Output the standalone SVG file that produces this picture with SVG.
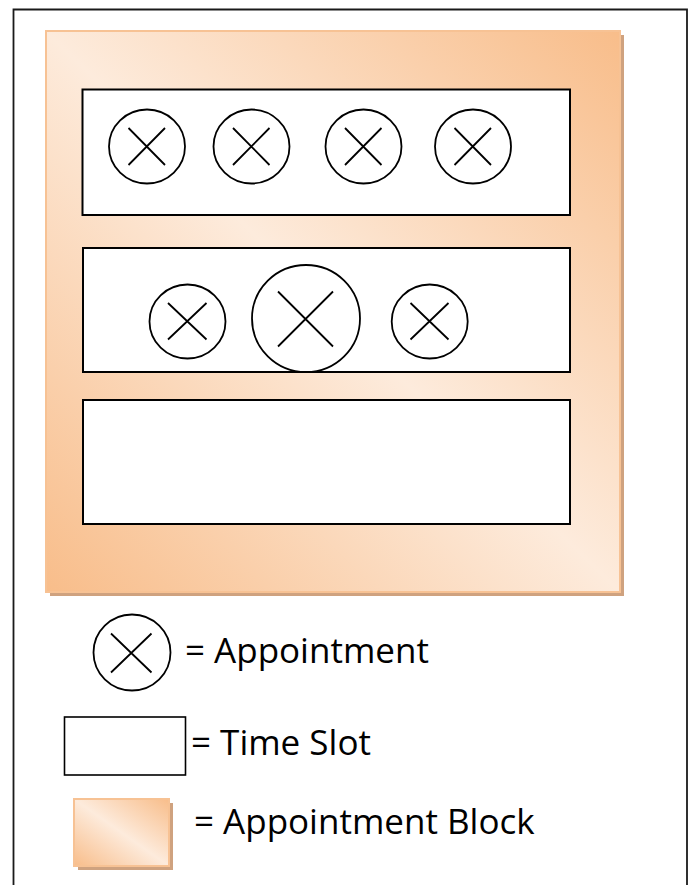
<svg xmlns="http://www.w3.org/2000/svg" width="700" height="885" viewBox="0 0 700 885">
<style>
.slot{fill:#fff;stroke:#000;stroke-width:2}
.appt{fill:#fff;stroke:#000;stroke-width:1.8}
.x{stroke:#000;stroke-width:1.8;fill:none}
.lbl{font-family:"Open Sans","Noto Sans",sans-serif;font-size:35px;fill:#000}
.block{stroke:#f7c294;stroke-width:2}
.shadow{fill:#cfa27f}
</style>
<defs>
<linearGradient id="g" x1="0" y1="1" x2="1" y2="0">
<stop offset="0" stop-color="#f8bd8a"/>
<stop offset="0.5" stop-color="#fdebdc"/>
<stop offset="1" stop-color="#f8bd8a"/>
</linearGradient>
</defs>
<path d="M13.5,885 V9.5 H687 V885" fill="none" stroke="#1a1a1a" stroke-width="1.8"/>
<g id="appointment-block">
<rect class="shadow" x="50" y="35" width="574" height="561"/>
<rect class="block" x="46" y="31" width="574" height="561" fill="url(#g)"/>
</g>
<g id="slot1">
<rect class="slot" x="82.5" y="89.5" width="487.5" height="125.5"/>
<g id="a1"><ellipse class="appt" cx="147" cy="146.5" rx="38" ry="37"/><path class="x" d="M128.5,165 L165,128 M128.5,128 L165,165"/></g>
<g id="a2"><ellipse class="appt" cx="251.5" cy="146.5" rx="38" ry="37"/><path class="x" d="M233,165 L269.5,128 M233,128 L269.5,165"/></g>
<g id="a3"><ellipse class="appt" cx="363.5" cy="146.5" rx="38" ry="37"/><path class="x" d="M345,165 L381.5,128 M345,128 L381.5,165"/></g>
<g id="a4"><ellipse class="appt" cx="473" cy="146.5" rx="38" ry="37"/><path class="x" d="M454.5,165 L491,128 M454.5,128 L491,165"/></g>
</g>
<g id="slot2">
<rect class="slot" x="83" y="248" width="487" height="124"/>
<g id="a5"><ellipse class="appt" cx="187.5" cy="321.5" rx="38" ry="37"/><path class="x" d="M168,339.5 L206.5,303 M168,303 L206.5,339.5"/></g>
<g id="a6"><ellipse class="appt" cx="306" cy="318.5" rx="54" ry="53.5"/><path class="x" d="M278,346.5 L333,291.5 M278,291.5 L333,346.5"/></g>
<g id="a7"><ellipse class="appt" cx="429.7" cy="321.5" rx="38" ry="37"/><path class="x" d="M410.5,339.5 L448.5,303 M410.5,303 L448.5,339.5"/></g>
</g>
<g id="slot3">
<rect class="slot" x="83" y="400" width="487" height="124"/>
</g>
<g id="legend-appointment">
<ellipse class="appt" cx="132" cy="652.5" rx="38.5" ry="38"/>
<path class="x" d="M111,672.5 L151.5,633.5 M111,633.5 L151.5,672.5"/>
<text class="lbl" x="185" y="663">= Appointment</text>
</g>
<g id="legend-timeslot">
<rect x="64.5" y="717" width="121" height="58" fill="#fff" stroke="#000" stroke-width="1.6"/>
<text class="lbl" x="191" y="755">= Time Slot</text>
</g>
<g id="legend-block">
<rect class="shadow" x="78" y="803" width="95" height="67"/>
<rect class="block" x="74" y="799" width="95" height="67" fill="url(#g)"/>
<text class="lbl" x="194" y="834">= Appointment Block</text>
</g>
</svg>
